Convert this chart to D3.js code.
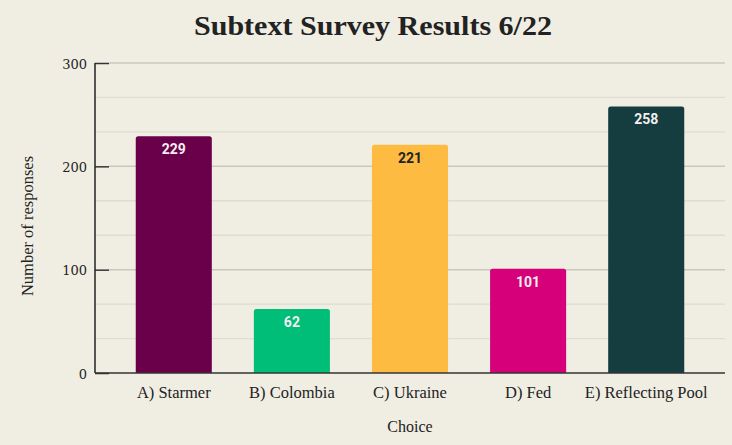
<!DOCTYPE html>
<html>
<head>
<meta charset="utf-8">
<script src="https://cdn.jsdelivr.net/npm/d3@7"></script>
<style>
  body { margin: 0; background: #f0eee2; }
  svg { display: block; }
</style>
</head>
<body>
<div id="chart"></div>
<script>
// survey data
const choices = ["A) Starmer", "B) Colombia", "C) Ukraine", "D) Fed", "E) Reflecting Pool"];
const responses = [229, 62, 221, 101, 258];
const barColors = ["#6a0049", "#00bd78", "#fdbb42", "#d6007a", "#153c3f"];
const labelColors = ["#f3eef0", "#f3eef0", "#222222", "#f3eef0", "#f3eef0"];
const majorTicks = [0, 100, 200, 300];
const minorTicks = [33.33, 66.67, 133.33, 166.67, 233.33, 266.67];

const width = 732, height = 445;
const margin = {top: 63, right: 7, bottom: 72, left: 95};

const svg = d3.select("#chart").append("svg")
    .attr("width", width)
    .attr("height", height);

svg.append("rect")
    .attr("width", width)
    .attr("height", height)
    .attr("fill", "#f0eee2");

const x = d3.scaleBand()
    .domain(choices)
    .range([margin.left, width - margin.right])
    .paddingInner(0.356)
    .paddingOuter(0.345);

const y = d3.scaleLinear()
    .domain([0, 300])
    .range([height - margin.bottom, margin.top]);

// title
svg.append("text")
    .attr("x", 373)
    .attr("y", 35)
    .attr("text-anchor", "middle")
    .attr("font-family", "Liberation Serif, serif")
    .attr("font-weight", "bold")
    .attr("font-size", 28)
    .attr("textLength", 358)
    .attr("lengthAdjust", "spacingAndGlyphs")
    .attr("fill", "#222")
    .text("Subtext Survey Results 6/22");

// minor grid
svg.append("g")
    .selectAll("line")
    .data(minorTicks)
    .join("line")
    .attr("x1", margin.left)
    .attr("x2", width - margin.right)
    .attr("y1", d => y(d))
    .attr("y2", d => y(d))
    .attr("stroke", "#dedcd3")
    .attr("stroke-width", 1.3);

// major grid
svg.append("g")
    .selectAll("line")
    .data(majorTicks.slice(1))
    .join("line")
    .attr("x1", margin.left + 14)
    .attr("x2", width - margin.right)
    .attr("y1", d => y(d))
    .attr("y2", d => y(d))
    .attr("stroke", "#c9c8bd")
    .attr("stroke-width", 1.5);

// y axis
const yAxis = svg.append("g")
    .attr("transform", `translate(${margin.left},0)`)
    .call(d3.axisRight(y).tickValues(majorTicks).tickSize(14).tickFormat(d3.format("d")));
yAxis.select(".domain").remove();
yAxis.selectAll(".tick line").attr("stroke", "#333").attr("stroke-width", 1.5);
yAxis.selectAll(".tick text")
    .attr("x", -8)
    .attr("dy", "0.4em")
    .attr("text-anchor", "end")
    .attr("font-family", "DejaVu Serif, serif")
    .attr("font-size", 13)
    .attr("fill", "#222");

svg.append("line")
    .attr("x1", margin.left).attr("x2", margin.left)
    .attr("y1", y(300)).attr("y2", y(0))
    .attr("stroke", "#222").attr("stroke-width", 1.5);

// bars with rounded tops
const r = 2.5;
svg.append("g")
    .selectAll("path")
    .data(choices)
    .join("path")
    .attr("d", (c, i) => {
        const x0 = x(c), x1 = x(c) + x.bandwidth();
        const top = y(responses[i]), bot = y(0);
        return `M${x0},${bot}V${top + r}Q${x0},${top} ${x0 + r},${top}H${x1 - r}Q${x1},${top} ${x1},${top + r}V${bot}Z`;
    })
    .attr("fill", (c, i) => barColors[i]);

// value labels
svg.append("g")
    .selectAll("text")
    .data(choices)
    .join("text")
    .attr("x", c => x(c) + x.bandwidth() / 2)
    .attr("y", (c, i) => y(responses[i]) + 18)
    .attr("text-anchor", "middle")
    .attr("font-family", "Roboto, sans-serif")
    .attr("font-weight", "bold")
    .attr("font-size", 14)
    .attr("fill", (c, i) => labelColors[i])
    .text((c, i) => responses[i]);

// x axis
const xAxis = svg.append("g")
    .attr("transform", `translate(0,${y(0)})`)
    .call(d3.axisBottom(x).tickSize(0).tickPadding(13));
xAxis.select(".domain").remove();
xAxis.selectAll(".tick text")
    .attr("font-family", "Liberation Serif, serif")
    .attr("font-size", 16.5)
    .attr("fill", "#222");

svg.append("line")
    .attr("x1", margin.left).attr("x2", width - margin.right)
    .attr("y1", y(0)).attr("y2", y(0))
    .attr("stroke", "#333").attr("stroke-width", 1.5);

// axis titles
svg.append("text")
    .attr("x", (margin.left + width - margin.right) / 2)
    .attr("y", 432)
    .attr("text-anchor", "middle")
    .attr("font-family", "Liberation Serif, serif")
    .attr("font-size", 16)
    .attr("fill", "#222")
    .text("Choice");

svg.append("text")
    .attr("transform", `translate(33,226) rotate(-90)`)
    .attr("text-anchor", "middle")
    .attr("font-family", "Liberation Serif, serif")
    .attr("font-size", 16.5)
    .attr("fill", "#222")
    .text("Number of responses");
</script>
</body>
</html>
